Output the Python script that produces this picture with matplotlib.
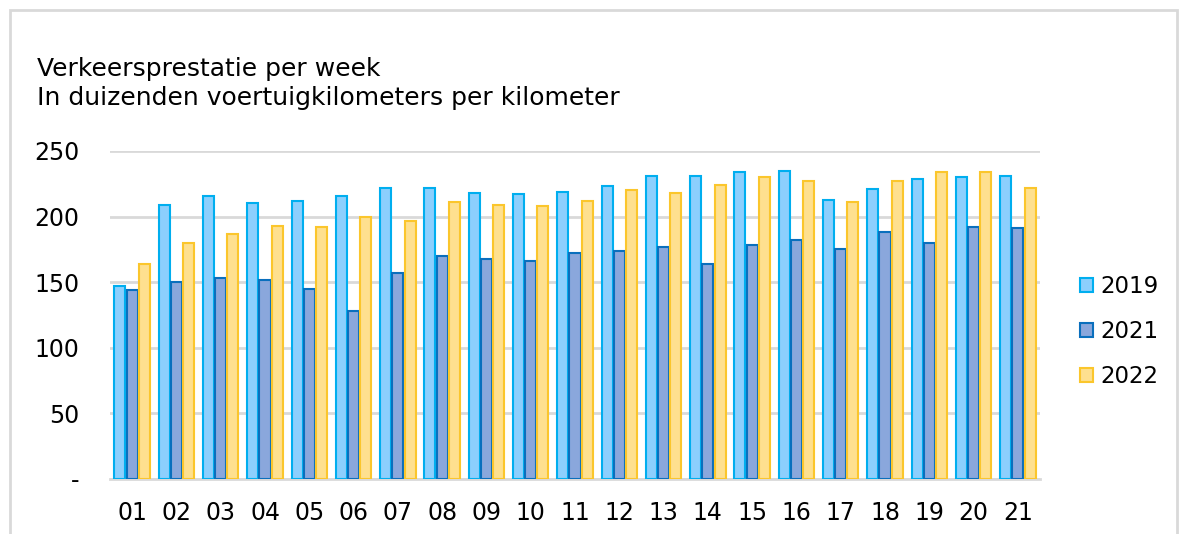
import numpy as np
import matplotlib
matplotlib.use('Agg')
import matplotlib.pyplot as plt
from matplotlib.patches import Rectangle

weeks = ['01', '02', '03', '04', '05', '06', '07', '08', '09', '10', '11',
         '12', '13', '14', '15', '16', '17', '18', '19', '20', '21']
v2019 = [147, 209, 216, 210, 212, 216, 222, 222, 218, 217, 219,
         223, 231, 231, 234, 235, 213, 221, 229, 230, 231]
v2021 = [144, 150, 153, 152, 145, 128, 157, 170, 168, 166, 172,
         174, 177, 164, 178, 182, 175, 188, 180, 192, 191]
v2022 = [164, 180, 187, 193, 192, 200, 197, 211, 209, 208, 212,
         220, 218, 224, 230, 227, 211, 227, 234, 234, 222]
yticks = [0, 50, 100, 150, 200, 250]
ytick_labels = ['-', '50', '100', '150', '200', '250']

plt.rcParams['font.family'] = ['DejaVu Sans']

fig = plt.figure(figsize=(11.9, 5.34), dpi=100)
# grijze rand rond de grafiek
fig.patches.append(Rectangle((10 / 1190, -0.1), 1167 / 1190, 1.1 - 10 / 534,
                             transform=fig.transFigure, fill=False,
                             edgecolor='#d9d9d9', linewidth=2))

ax = fig.add_axes([110 / 1190, (534 - 479) / 534, 930 / 1190, 328 / 534])
x = np.arange(len(weeks))
w = 0.25
off = 0.276
ax.bar(x - off, v2019, w, color='#8ccffd', edgecolor='#00aeef', linewidth=1.5, label='2019', zorder=3)
ax.bar(x, v2021, w, color='#8aa7dc', edgecolor='#0a6fbd', linewidth=1.5, label='2021', zorder=3)
ax.bar(x + off, v2022, w, color='#fee08f', edgecolor='#fbc62c', linewidth=1.5, label='2022', zorder=3)

ax.set_xlim(-0.5, len(weeks) - 0.5)
ax.set_ylim(0, 250)
ax.set_yticks(yticks)
ax.set_yticklabels(ytick_labels)
ax.set_xticks(x)
ax.set_xticklabels(weeks)
ax.tick_params(axis='both', length=0, labelsize=17, colors='#000000')
ax.yaxis.set_tick_params(pad=22)
ax.xaxis.set_tick_params(pad=16)
ax.grid(axis='y', color='#d9d9d9', linewidth=2, zorder=0)
for s in ['top', 'right', 'left']:
    ax.spines[s].set_visible(False)
ax.spines['bottom'].set_color('#d9d9d9')
ax.spines['bottom'].set_linewidth(2)

fig.text(37 / 1190, 1 - 83.5 / 534, 'Verkeersprestatie per week\nIn duizenden voertuigkilometers per kilometer',
         fontsize=18, va='center', ha='left', linespacing=1.3)

ax.legend(loc='center left', bbox_to_anchor=(1.0203, 0.449), frameon=False, fontsize=16.5,
          handlelength=0.6, handleheight=0.6, handletextpad=0.3, labelspacing=0.96)

plt.savefig('out.png', dpi=100)
